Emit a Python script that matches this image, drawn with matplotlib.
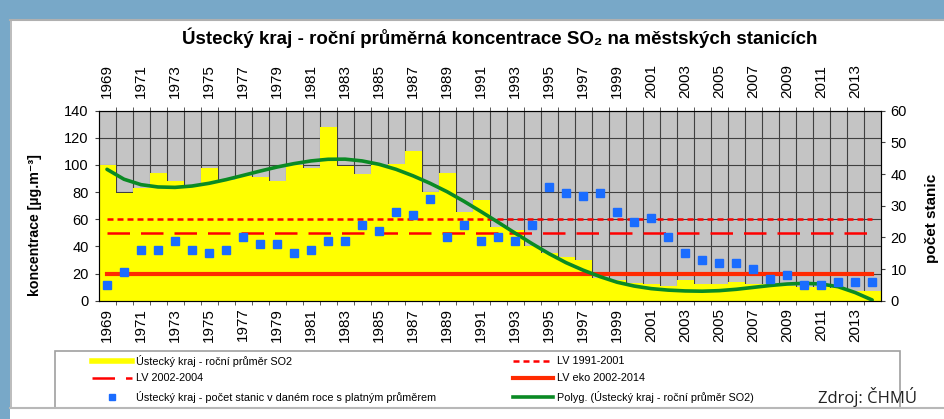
import matplotlib
matplotlib.use("Agg")
import matplotlib.pyplot as plt
from matplotlib.patches import Rectangle
from matplotlib.lines import Line2D

# Ústecký kraj, annual mean SO2 at urban stations
years = list(range(1969, 2015))
so2_mean = [100, 79, 83, 94, 88, 85, 98, 89, 92, 91, 88,
            100, 98, 128, 99, 93, 100, 101, 110, 80, 94,
            65, 74, 54, 52, 40, 35, 32, 30, 17, 15,
            13, 12, 11, 15, 12, 12, 14, 12, 12, 11,
            10, 10, 9, 7, 7]
stations = [5, 9, 16, 16, 19, 16, 15, 16, 20, 18, 18,
            15, 16, 19, 19, 24, 22, 28, 27, 32, 20,
            24, 19, 20, 19, 24, 36, 34, 33, 34, 28,
            25, 26, 20, 15, 13, 12, 12, 10, 7, 8,
            5, 5, 6, 6, 6]
trend = [96.8, 89.5, 85.5, 83.8, 83.5, 84.5, 86.5, 89.2, 92.3, 95.5, 98.5,
         101, 103, 104.2, 104.3, 103, 100.5, 96.8, 92, 86.5, 80.3,
         73.2, 65.6, 57.8, 49.8, 42, 34.6, 28, 22.5, 17.7, 13.6,
         10.8, 8.9, 7.8, 7.2, 7.0, 7.4, 8.4, 9.8, 11.2, 12.3,
         12.8, 12.3, 10.3, 6, 0.5]
lv_1991_2001 = [60] * len(years)
lv_2002_2004 = [50] * len(years)
lv_eko = [20] * len(years)
year_labels = [str(y) for y in years[::2]]
legend_labels = ["Ústecký kraj - roční průměr SO2", "LV 1991-2001",
                 "LV 2002-2004", "LV eko 2002-2014",
                 "Ústecký kraj - počet stanic v daném roce s platným průměrem",
                 "Polyg. (Ústecký kraj - roční průměr SO2)"]

FONT = ["Liberation Sans", "DejaVu Sans"]
plt.rcParams["font.family"] = FONT

YELLOW = "#ffff00"
RED = "#ff0000"
RED2 = "#ff2a00"
BLUE_PT = "#1a6cff"
GREEN = "#0a8a24"
DASH_S = (0, (2.4, 1.6))
DASH_L = (0, (9, 4.4))

W, H = 944, 419
fig = plt.figure(figsize=(W / 100, H / 100), dpi=100)
fig.patch.set_facecolor("white")

def fx(px):
    return px / W

def fy(py):
    return 1 - py / H

# page frame (blue strips + grey rules)
blue = "#78a8c8"
fig.patches.append(Rectangle((0, fy(19)), 1, 19 / H, transform=fig.transFigure,
                             facecolor=blue, edgecolor="none", zorder=0))
fig.patches.append(Rectangle((0, 0), 10 / W, 1, transform=fig.transFigure,
                             facecolor=blue, edgecolor="none", zorder=0))
fig.lines.append(Line2D([fx(10), 1], [fy(20), fy(20)], transform=fig.transFigure, color="#b0b0b0", lw=1.5))
fig.lines.append(Line2D([fx(11), fx(11)], [fy(20), fy(408)], transform=fig.transFigure, color="#b0b0b0", lw=1.2))
fig.lines.append(Line2D([fx(10), 1], [fy(408), fy(408)], transform=fig.transFigure, color="#b8b8b8", lw=1.5))

ax = fig.add_axes([fx(98.5), fy(300.7), fx(880.7) - fx(98.5), 190 / H])
ax.set_facecolor("#c4c4c4")
ax.bar(years, so2_mean, width=1.0, color=YELLOW, zorder=2)
ax.plot(years, lv_1991_2001, color=RED, lw=1.8, ls=DASH_S, zorder=3)
ax.plot(years, lv_2002_2004, color=RED, lw=1.8, ls=DASH_L, zorder=3)
ax.plot(years, lv_eko, color=RED2, lw=3, zorder=3)
ax.plot(years, trend, color=GREEN, lw=2.6, zorder=4, solid_capstyle="round")

ax.set_xlim(1968.5, 2014.5)
ax.set_ylim(0, 140)
ax.set_yticks(range(0, 141, 20))
ax.set_xticks(years[::2])
ax.set_xticklabels(year_labels)
ax.set_xticks([y + 0.5 for y in years[:-1]], minor=True)
ax.grid(which="minor", axis="x", color="#404040", lw=0.8)
ax.grid(which="major", axis="y", color="#404040", lw=0.8)
ax.set_axisbelow(True)
ax.tick_params(axis="x", which="major", length=0, labelrotation=90, labelsize=11, pad=5)
ax.tick_params(axis="x", which="minor", length=3, top=True, bottom=True, color="#404040")
ax.tick_params(axis="y", length=3, color="#404040", labelsize=10.5, pad=4)
for s in ax.spines.values():
    s.set_color("#404040")
    s.set_linewidth(0.8)
ax.set_ylabel("koncentrace [µg.m⁻³]", fontweight="bold", fontsize=10.2)
ax.yaxis.set_label_coords(-0.072, 0.40)

# year labels repeated above the plot
top = ax.secondary_xaxis("top")
top.set_xticks(years[::2])
top.set_xticklabels(year_labels)
top.tick_params(axis="x", length=0, labelrotation=90, labelsize=11, pad=9)
top.spines["top"].set_visible(False)

ax2 = ax.twinx()
ax2.plot(years, stations, "s", color=BLUE_PT, ms=5.3, zorder=5)
ax2.set_ylim(0, 60)
ax2.set_yticks(range(0, 61, 10))
ax2.tick_params(axis="y", length=3, color="#404040", labelsize=10.5, pad=4)
ax2.set_ylabel("počet stanic", fontweight="bold", fontsize=11)
ax2.yaxis.set_label_coords(1.0567, 0.435)

fig.text(fx(500), fy(38), "Ústecký kraj - roční průměrná koncentrace SO₂ na městských stanicích",
         ha="center", va="center", fontsize=13.5, fontweight="bold")

# legend box, drawn by hand: 2 columns x 3 rows
fig.patches.append(Rectangle((fx(55), fy(408)), fx(900) - fx(55), (408 - 351) / H,
                             transform=fig.transFigure, facecolor="white",
                             edgecolor="#a0a0a0", lw=1.2, zorder=1))
handles = [dict(color=YELLOW, lw=4), dict(color=RED, lw=1.8, ls=DASH_S),
           dict(color=RED, lw=1.8, ls=DASH_L), dict(color=RED2, lw=3),
           dict(color=BLUE_PT, marker="s", ls="none", ms=4), dict(color=GREEN, lw=2.6)]
col_x = [92, 513]
row_y = [360.5, 378, 396.5]
for i, (lab, hd) in enumerate(zip(legend_labels, handles)):
    x0 = col_x[i % 2]
    yy = fy(row_y[i // 2])
    if hd.get("marker"):
        fig.lines.append(Line2D([fx(x0 + 20)], [yy], transform=fig.transFigure, zorder=3, **hd))
    else:
        fig.lines.append(Line2D([fx(x0), fx(x0 + 40)], [yy, yy], transform=fig.transFigure,
                                zorder=3, **hd))
    fig.text(fx(x0 + 44), yy, lab, ha="left", va="center", fontsize=7.8, zorder=3)

fig.text(fx(818), fy(397), "Zdroj: ČHMÚ", ha="left", va="center", fontsize=12,
         family=["Open Sans", "DejaVu Sans"], color="#222222", zorder=5)

fig.savefig("out.png", dpi=100)
